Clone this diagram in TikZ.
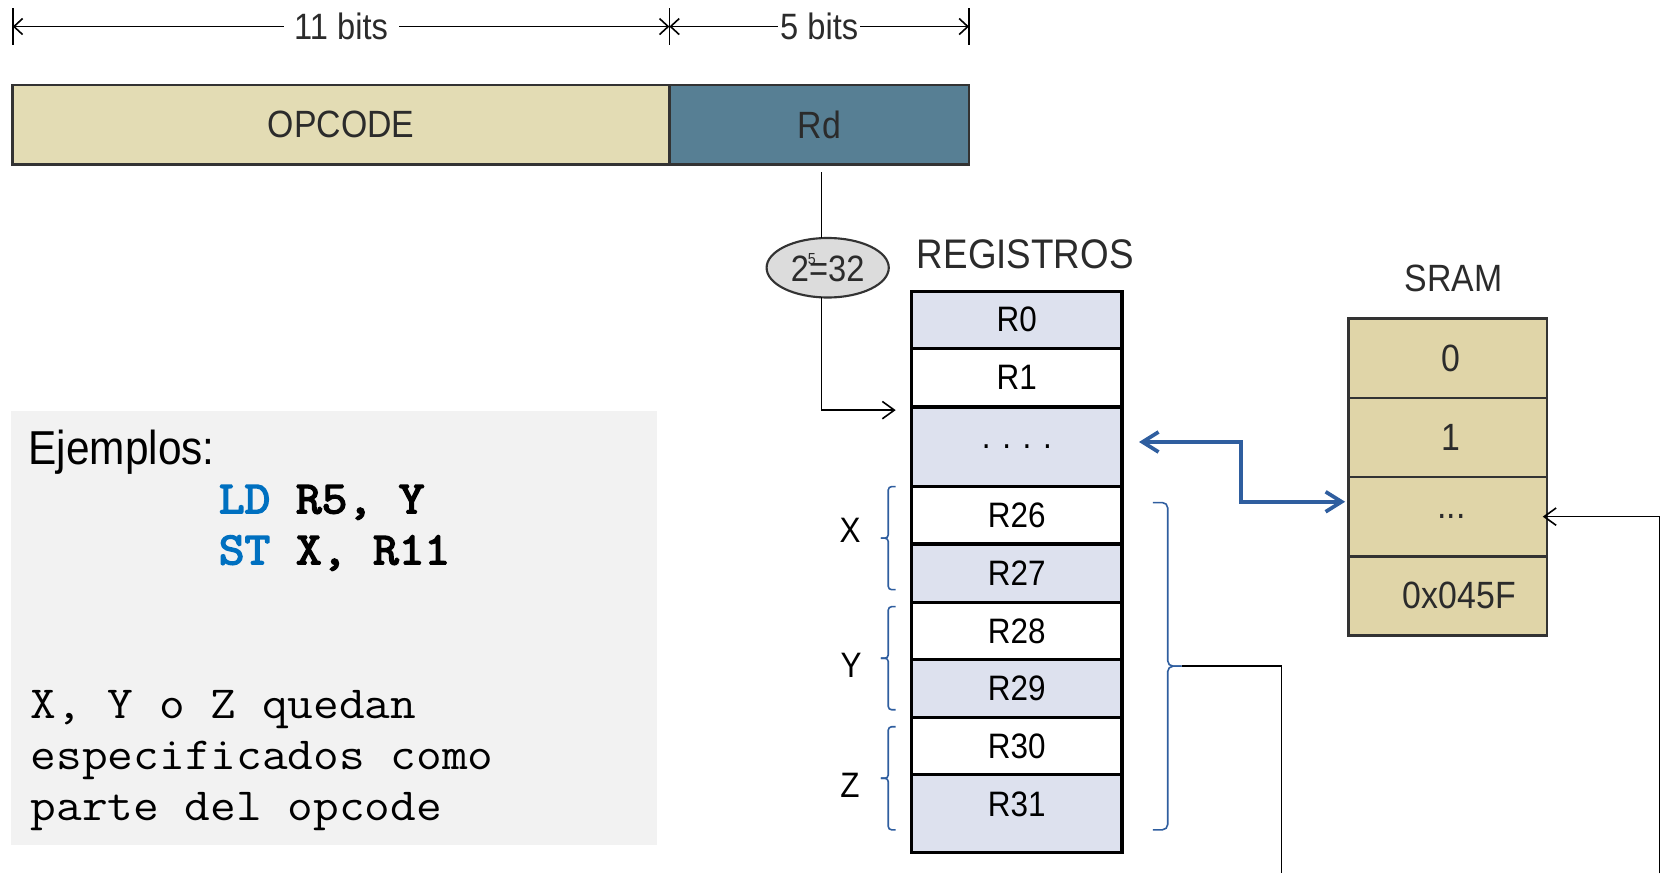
\documentclass[tikz,border=0pt]{standalone}
\usepackage{fontspec}
\setmainfont{Liberation Sans}[FakeStretch=0.89]
\newfontfamily\notefont{Latin Modern Mono}[FakeStretch=1.085]
\newfontfamily\codefont{Latin Modern Mono}[FakeStretch=1.085,FakeBold=3.5]
\usetikzlibrary{arrows.meta,shapes.geometric,calc}

% one drawing unit
\newdimen\unitpx
\unitpx=0.796875pt

\definecolor{opcfill}{HTML}{E3DCB4}
\definecolor{rdfill}{HTML}{577F94}
\definecolor{regfill}{HTML}{DDE1EE}
\definecolor{sramfill}{HTML}{E0D5A8}
\definecolor{powfill}{HTML}{DCDCDC}
\definecolor{boxgray}{HTML}{F2F2F2}
\definecolor{edgegray}{HTML}{333333}
\definecolor{txtdark}{HTML}{2B2B2B}
\definecolor{busblue}{HTML}{2F5E9F}
\definecolor{codeblue}{HTML}{0070C0}

\newcommand\fsdim{\fontsize{27.5pt}{32pt}\selectfont}
\newcommand\fsbar{\fontsize{28.5pt}{32pt}\selectfont}
\newcommand\fsreg{\fontsize{26.5pt}{30pt}\selectfont}
\newcommand\fstitle{\fontsize{31pt}{36pt}\selectfont}
\newcommand\fsex{\fontsize{35.7pt}{40pt}\selectfont}
\newcommand\fsmono{\fontsize{34.5pt}{40pt}\selectfont}

\tikzset{
  dimtip/.tip={Straight Barb[length=6.5pt,width=12pt]},
  opentip/.tip={Straight Barb[length=9pt,width=13pt]},
  bluetip/.tip={Straight Barb[length=12pt,width=15pt]},
}

\begin{document}
\begin{tikzpicture}[x=\unitpx,y=-\unitpx,
  every node/.style={inner sep=0pt,outer sep=0pt},
  conn/.style={line width=1.2pt},
  fieldbox/.style={draw=edgegray,line width=2pt,minimum height=75*\unitpx,text=txtdark,font=\fsbar},
  regcell/.style={draw=black,line width=2.4pt,minimum width=198*\unitpx,font=\fsreg},
  sramcell/.style={draw=edgegray,line width=2pt,fill=sramfill,minimum width=187*\unitpx,
                   minimum height=74.5*\unitpx,text=txtdark,font=\fsbar},
  bracket/.style={draw=busblue,line width=1.2pt,rounded corners=#1},
  noteline/.style={anchor=base west,font=\fsmono\notefont},
  codeline/.style={anchor=base west,font=\fsmono\codefont},
]
\useasboundingbox (0,0) rectangle (1568,822);

% ---- bit widths of the instruction word
\coordinate (d0) at (12,25);
\coordinate (d1) at (630,25);
\coordinate (d2) at (912,25);
\foreach \xx in {12,630,912} \draw[conn] (\xx,8) -- (\xx,42);
\draw[conn,{dimtip}-{dimtip}] (d0) -- node[fill=white,inner xsep=8pt,inner ysep=2pt,font=\fsdim,text=txtdark] (w11) {11 bits} (d1);
\draw[conn,{dimtip}-{dimtip}] (d1) -- node[fill=white,inner xsep=1.5pt,inner ysep=2pt,font=\fsdim,text=txtdark] (w5) {5 bits} (d2);

% ---- instruction fields
\node[fieldbox,fill=opcfill,minimum width=618*\unitpx] (opc) at (321,117.5) {OPCODE};
\node[fieldbox,fill=rdfill,minimum width=282*\unitpx] (rd) at (771,117.5) {Rd};

% ---- 5 bits select one of 32 registers
\node[ellipse,draw=edgegray,line width=1.6pt,fill=powfill,minimum width=115*\unitpx,
      minimum height=56*\unitpx,font=\fsdim,text=txtdark] (pow) at (779,252)
      {2\rlap{\kern-1pt\raisebox{13pt}{\fontsize{12pt}{12pt}\selectfont 5}}=32};
\coordinate (rdtap) at (773,162);
\coordinate (regin) at (843,386);
\draw[conn] (rdtap) -- (rdtap |- pow.north);
\draw[conn,-{opentip}] (rdtap |- pow.south) |- (regin);

% ---- register file
\node[font=\fstitle,text=txtdark] (regtitle) at (965,239) {REGISTROS};
\node[regcell,fill=regfill,minimum height=54*\unitpx] (r0) at (957,301) {R0};
\node[regcell,fill=white,minimum height=55*\unitpx] (r1) at (957,355.5) {R1};
\node[regcell,fill=regfill,minimum height=75*\unitpx] (rdots) at (957,420.5) {. . . .};
\node[regcell,fill=white,minimum height=54*\unitpx] (r26) at (957,485) {R26};
\node[regcell,fill=regfill,minimum height=55*\unitpx] (r27) at (957,539.5) {R27};
\node[regcell,fill=white,minimum height=54*\unitpx] (r28) at (957,594) {R28};
\node[regcell,fill=regfill,minimum height=54*\unitpx] (r29) at (957,648) {R29};
\node[regcell,fill=white,minimum height=54*\unitpx] (r30) at (957,702) {R30};
\node[regcell,fill=regfill,minimum height=73*\unitpx] (r31) at (957,765.5) {};
\node[font=\fsreg] (r31t) at (957,757) {R31};

% ---- pointer register pairs (left brackets, two halves meeting at the tip)
\foreach \ya/\yb in {458/555, 571/668, 684/781}{
  \draw[bracket=2.5pt] (843,\ya) -- (836,\ya) -- (836,{(\ya+\yb)/2}) -- (829,{(\ya+\yb)/2});
  \draw[bracket=2.5pt] (843,\yb) -- (836,\yb) -- (836,{(\ya+\yb)/2}) -- (829,{(\ya+\yb)/2});
}
\node[font=\fsreg] (lx) at (800,499) {X};
\node[font=\fsreg] (ly) at (801,626) {Y};
\node[font=\fsreg] (lz) at (800,739) {Z};

% ---- bracket over R26..R31 and its bus
\coordinate (zt) at (1112,627);
\draw[bracket=4pt] (1085,473) -- (1099,473) -- (1099,627) -- (zt);
\draw[bracket=4pt] (1085,781) -- (1099,781) -- (1099,627) -- (zt);
\coordinate (busL) at (1206,822);
\draw[conn] (zt) -| (busL);

% ---- data memory
\node[font=\fsbar,text=txtdark] (sramtitle) at (1368,262) {SRAM};
\node[sramcell] (s0) at (1362.5,337.25) {\hspace*{7\unitpx}0};
\node[sramcell] (s1) at (1362.5,411.75) {\hspace*{7\unitpx}1};
\node[sramcell] (s2) at (1362.5,486.25) {\hspace*{7\unitpx}...};
\node[sramcell] (s3) at (1362.5,560.75) {\hspace*{22\unitpx}0x045F};

\coordinate (busR) at (1562,822);
\draw[conn,-{opentip}] (busR) |- ($(s2.east)+(-4,0)$);

% ---- transfer between registers and memory
\draw[busblue,line width=2.8pt,{bluetip}-{bluetip}]
  ($(rdots.east)+(16,-4.5)$) -- ++(96,0) |- ($(s2.west)+(-3,-14)$);

% ---- examples
\node[fill=boxgray,minimum width=608*\unitpx,minimum height=408*\unitpx] (exbox) at (314,591) {};
\node[anchor=base west,font=\fsex] (exhead) at (27,437) {Ejemplos:};
\node[codeline] (ex1) at (206,483) {\textcolor{codeblue}{LD} R5, Y};
\node[codeline] (ex2) at (206,531) {\textcolor{codeblue}{ST} X, R11};
\node[noteline] (n1) at (29,676) {X, Y o Z quedan};
\node[noteline] (n2) at (29,724) {especificados como};
\node[noteline] (n3) at (29,772) {parte del opcode};
\end{tikzpicture}
\end{document}
